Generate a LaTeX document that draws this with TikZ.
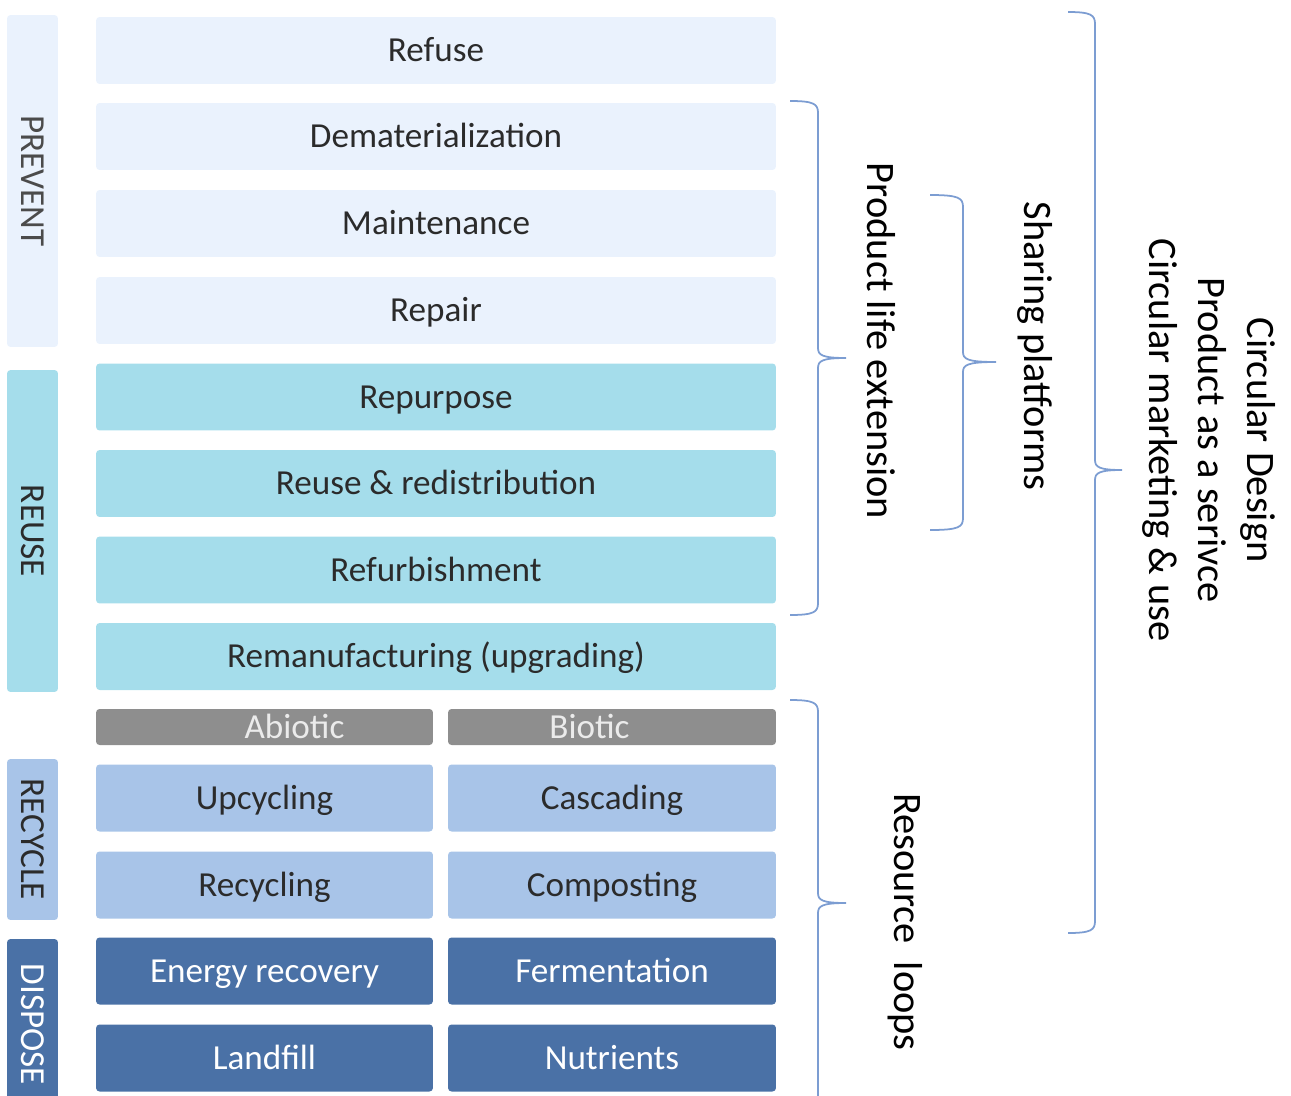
\documentclass[tikz,border=0pt]{standalone}
\usepackage{fontspec}
\setmainfont{Carlito}

\definecolor{prevfill}{HTML}{EAF2FD}
\definecolor{reusefill}{HTML}{A5DDEB}
\definecolor{cyclefill}{HTML}{A8C4E8}
\definecolor{dispfill}{HTML}{4A71A6}
\definecolor{headfill}{HTML}{8E8E8E}
\definecolor{inkdark}{HTML}{2B2B2B}
\definecolor{bracecol}{HTML}{7C9DD2}

\tikzset{
  tier/.style={rounded corners=2pt, inner sep=0pt, text=inkdark, text height=16pt, text depth=3pt,
    font=\fontsize{20}{24}\selectfont},
  wide/.style={tier, minimum width=13.6cm, minimum height=1.34cm},
  halfleft/.style={tier, minimum width=6.74cm, minimum height=1.34cm},
  halfright/.style={tier, minimum width=6.56cm, minimum height=1.34cm},
  stage/.style={tier, rotate=-90, minimum height=1.02cm},
  bracetext/.style={rotate=-90, align=center, font=\fontsize{23}{28}\selectfont},
  curly/.style={draw=bracecol, line width=1pt}
}

\begin{document}
\begin{tikzpicture}[x=0.02cm, y=-0.02cm]
  \useasboundingbox (0,0) rectangle (1291,1095);

  % Stages on the left
  \node[stage, fill=prevfill, minimum width=6.64cm, text=inkdark!85] (prevent) at (32.5,181) {PREVENT};
  \node[stage, fill=reusefill, minimum width=6.44cm] (reuse) at (32.5,531) {REUSE};
  \node[stage, fill=cyclefill, minimum width=3.22cm] (recycle) at (32.5,839.5) {RECYCLE};
  \node[stage, fill=dispfill, minimum width=3.42cm, text=white] (dispose) at (32.5,1024.5) {DISPOSE};

  % Prevent options
  \node[wide, fill=prevfill] (refuse) at (436,50.5) {Refuse};
  \node[wide, fill=prevfill] (demat) at (436,136.5) {Dematerialization};
  \node[wide, fill=prevfill] (maint) at (436,223.5) {Maintenance};
  \node[wide, fill=prevfill] (repair) at (436,310.5) {Repair};

  % Reuse options
  \node[wide, fill=reusefill] (repurpose) at (436,397) {Repurpose};
  \node[wide, fill=reusefill] (redist) at (436,483.5) {Reuse \& redistribution};
  \node[wide, fill=reusefill] (refurb) at (436,570) {Refurbishment};
  \node[wide, fill=reusefill] (reman) at (436,656.5) {Remanufacturing (upgrading)};

  % Abiotic and biotic columns
  \node[halfleft, fill=headfill, minimum height=0.72cm, text=white!92!black] (abiotic) at (264.5,727) {\hspace*{1.2cm}Abiotic};
  \node[halfright, fill=headfill, minimum height=0.72cm, text=white!92!black] (biotic) at (612,727) {Biotic\hspace*{0.9cm}};
  \node[halfleft, fill=cyclefill] (upcyc) at (264.5,798) {Upcycling};
  \node[halfright, fill=cyclefill] (cascade) at (612,798) {Cascading};
  \node[halfleft, fill=cyclefill] (recyc) at (264.5,885) {Recycling};
  \node[halfright, fill=cyclefill] (compost) at (612,885) {Composting};
  \node[halfleft, fill=dispfill, text=white] (energy) at (264.5,971) {Energy recovery};
  \node[halfright, fill=dispfill, text=white] (ferment) at (612,971) {Fermentation};
  \node[halfleft, fill=dispfill, text=white] (landfill) at (264.5,1058) {Landfill};
  \node[halfright, fill=dispfill, text=white] (nutrients) at (612,1058) {Nutrients};

  % Braces on the right
  \foreach \bx/\bt/\bm/\bb/\bw in {818/101/358/615/28, 963/195/362/530/33, 1095/12/470/933/27, 818/700/903/1106/28}
    \draw[curly] (\bx-\bw,\bt) .. controls (\bx-4,\bt) and (\bx,\bt+3) .. (\bx,\bt+12)
      -- (\bx,\bm-10) .. controls (\bx,\bm-3) and (\bx+4,\bm) .. (\bx+\bw,\bm)
      .. controls (\bx+4,\bm) and (\bx,\bm+3) .. (\bx,\bm+10)
      -- (\bx,\bb-12) .. controls (\bx,\bb-3) and (\bx-4,\bb) .. (\bx-\bw,\bb);

  \node[bracetext] (lifeext) at (881,341) {Product life extension};
  \node[bracetext] (sharing) at (1035,346) {Sharing platforms};
  \node[bracetext] (circular) at (1209,440) {Circular Design\\Product as a serivce\\Circular marketing \& use};
  \node[bracetext] (loops) at (905,922) {Resource~ loops};
\end{tikzpicture}
\end{document}
